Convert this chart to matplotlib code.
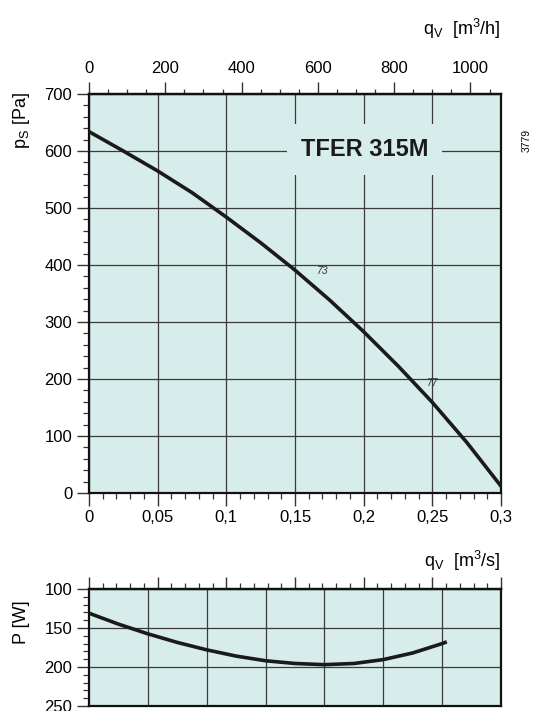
import numpy as np
import matplotlib
matplotlib.use("Agg")
import matplotlib.pyplot as plt
from matplotlib.ticker import FuncFormatter

plt.rcParams['font.family'] = ['Liberation Sans', 'DejaVu Sans']
plt.rcParams['mathtext.default'] = 'regular'

# fan curve, static pressure vs. flow (m3/s, Pa)
q_ps = [0, 0.025, 0.05, 0.075, 0.1, 0.125, 0.15, 0.175, 0.2, 0.225, 0.25, 0.275, 0.3]
ps = [634, 600, 565, 527, 484, 439, 391, 339, 283, 223, 159, 89, 12]

# power curve (m3/s, W)
q_pw = [0, 0.0214, 0.0429, 0.0643, 0.0857, 0.1071, 0.1286, 0.15, 0.1714, 0.1929,
        0.2143, 0.2357, 0.2571, 0.2593]
pw = [131, 145, 157.5, 168.5, 178, 186, 192, 195.5, 197, 195.5,
      190.5, 182, 170, 168.5]

# sound level labels on the curve
lbl_q = [0.170, 0.2505]
lbl_p = [389, 193]
lbl_txt = ["73", "77"]

BG = "#d7edeb"
GRID = "#3a3a3a"
TICK = "#333333"


def comma_fmt(v, pos):
    return f"{v:g}".replace(".", ",")


def style_spines(a):
    for s in a.spines.values():
        s.set_linewidth(1.6)
        s.set_color("#111111")


fig = plt.figure(figsize=(5.41, 7.11), dpi=100)

# ---- main pressure chart
ax = fig.add_axes([89 / 541, 1 - 493 / 711, 412 / 541, 399 / 711])
ax.set_facecolor(BG)
ax.plot(q_ps, ps, color="#1a1a1a", lw=2.6, solid_joinstyle="round", zorder=3)
ax.set_xlim(0, 0.3)
ax.set_ylim(0, 700)
ax.set_xticks(np.round(np.arange(0, 0.301, 0.05), 3))
ax.set_xticks(np.round(np.arange(0, 0.301, 0.01), 3), minor=True)
ax.set_yticks(np.arange(0, 701, 100))
ax.set_yticks(np.arange(0, 701, 20), minor=True)
ax.xaxis.set_major_formatter(FuncFormatter(comma_fmt))
ax.grid(True, which="major", color=GRID, lw=0.9)
ax.tick_params(which="major", direction="out", length=9, width=1.0, color=TICK,
               labelsize=12, pad=3)
ax.tick_params(which="minor", direction="out", length=4, width=0.9, color=TICK)
style_spines(ax)

for qx, py, t in zip(lbl_q, lbl_p, lbl_txt):
    ax.text(qx, py, t, fontsize=7.5, style="italic", color="#333333",
            ha="center", va="center", zorder=4)

ax.text(0.2006, 603, "TFER 315M", fontsize=17, fontweight="bold", ha="center", va="center",
        color="#1a1a1a", zorder=5,
        bbox=dict(boxstyle="square,pad=0.6", facecolor=BG, edgecolor="none"))

top = ax.secondary_xaxis("top", functions=(lambda x: x * 3600, lambda x: x / 3600))
top.set_xticks(np.arange(0, 1001, 200))
top.set_xticks(np.arange(0, 1081, 50), minor=True)
top.tick_params(which="major", direction="out", length=9, width=1.0, color=TICK,
                labelsize=12, pad=4)
top.tick_params(which="minor", direction="out", length=3.5, width=0.9, color=TICK)
top.spines["top"].set_linewidth(1.6)

# ---- power chart
ax2 = fig.add_axes([89 / 541, 1 - 706 / 711, 412 / 541, 117 / 711])
ax2.set_facecolor(BG)
ax2.plot(q_pw, pw, color="#1a1a1a", lw=2.6, solid_joinstyle="round", zorder=3)
ax2.set_xlim(0, 0.3)
ax2.set_ylim(250, 100)
ax2.set_xticks(np.arange(1, 7) * 0.3 / 7)
ax2.tick_params(axis="x", which="both", length=0, labelbottom=False)
ax2.set_yticks(np.arange(100, 251, 50))
ax2.set_yticks(np.arange(100, 251, 10), minor=True)
ax2.grid(True, which="major", color=GRID, lw=0.9)
ax2.tick_params(axis="y", which="major", direction="out", length=9, width=1.0, color=TICK,
                labelsize=12, pad=3)
ax2.tick_params(axis="y", which="minor", direction="out", length=4, width=0.9, color=TICK)
style_spines(ax2)

top2 = ax2.secondary_xaxis("top")
top2.set_xticks(np.round(np.arange(0, 0.301, 0.05), 3))
top2.set_xticks(np.round(np.arange(0, 0.301, 0.01), 3), minor=True)
top2.tick_params(which="major", direction="out", length=9, width=1.0, color=TICK,
                 labeltop=False)
top2.tick_params(which="minor", direction="out", length=4, width=0.9, color=TICK)
top2.spines["top"].set_linewidth(1.6)

# ---- axis labels and annotations
fig.text(501 / 541, 1 - 29 / 711, r"q$_V$  [m$^3$/h]", fontsize=13, ha="right", va="center")
fig.text(501 / 541, 1 - 561 / 711, r"q$_V$  [m$^3$/s]", fontsize=13, ha="right", va="center")
fig.text(21 / 541, 1 - 121 / 711, r"p$_S$ [Pa]", fontsize=13, rotation=90, ha="center", va="center")
fig.text(21 / 541, 1 - 622 / 711, "P [W]", fontsize=13, rotation=90, ha="center", va="center")
fig.text(527 / 541, 1 - 140 / 711, "3779", fontsize=7.5, rotation=90, ha="center", va="center")

fig.savefig("out.png", dpi=100)
